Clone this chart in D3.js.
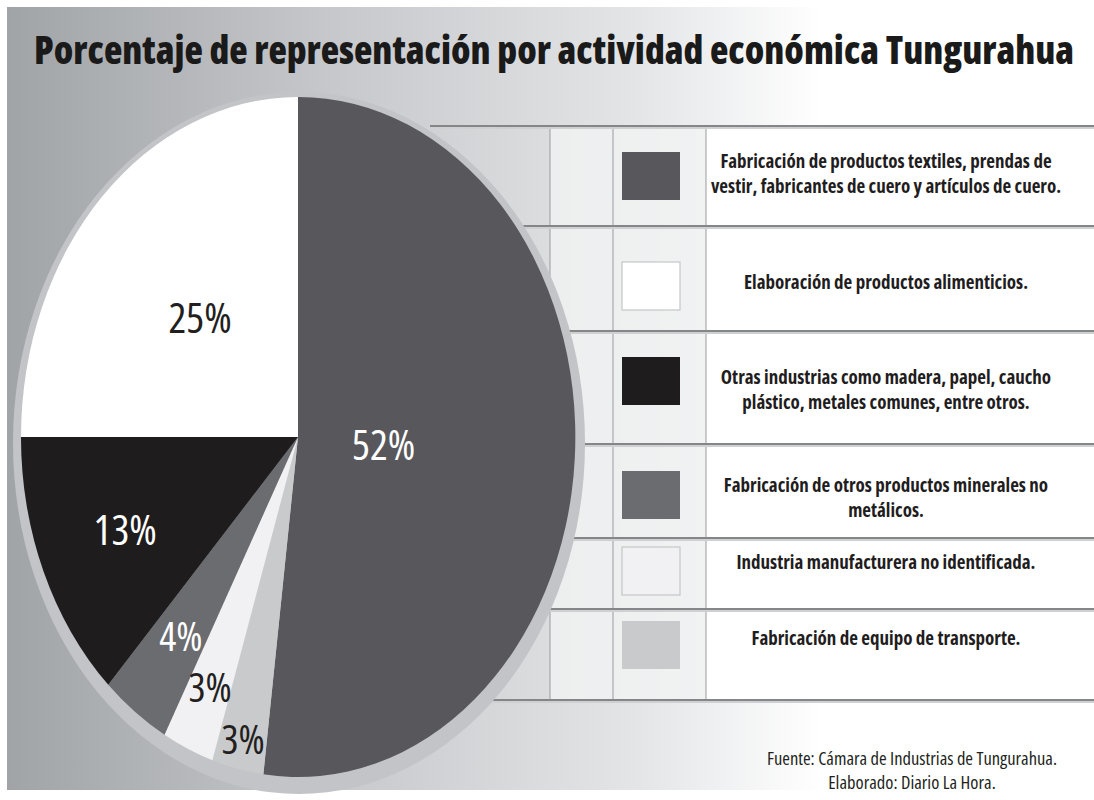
<!DOCTYPE html>
<html>
<head>
<meta charset="utf-8">
<script src="https://cdn.jsdelivr.net/npm/d3@7"></script>
<style>
  body { margin: 0; background: #fff; }
  svg { display: block; }
</style>
</head>
<body>
<svg id="chart" width="1094" height="800"></svg>
<script>
// legend order (top to bottom)
var categories = [
  ["Fabricación de productos textiles, prendas de", "vestir, fabricantes de cuero y artículos de cuero."],
  ["Elaboración de productos alimenticios."],
  ["Otras industrias como madera, papel, caucho", "plástico, metales comunes, entre otros."],
  ["Fabricación de otros productos minerales no", "metálicos."],
  ["Industria manufacturera no identificada."],
  ["Fabricación de equipo de transporte."]
];
var values = [52, 25, 13, 4, 3, 3];
var colors = ["#58575c", "#ffffff", "#1f1c1d", "#6b6c6f", "#f1f1f3", "#c9cacc"];
var labelColors = ["#fff", "#231f20", "#fff", "#fff", "#231f20", "#231f20"];
// clockwise order of the slices starting at 12 o'clock
var pieOrder = [0, 5, 4, 3, 2, 1];
// how far out each percent label sits (fraction of radius)
var labelRadius = [0.31, 0.5, 0.68, 0.72, 0.8, 0.91];

var title = "Porcentaje de representación por actividad económica Tungurahua";
var source = ["Fuente: Cámara de Industrias de Tungurahua.", "Elaborado: Diario La Hora."];

var svg = d3.select("#chart");
var defs = svg.append("defs");

var bg = defs.append("linearGradient").attr("id", "bg")
    .attr("x1", 0).attr("x2", 1).attr("y1", 0).attr("y2", 0);
bg.append("stop").attr("offset", "0%").attr("stop-color", "#a1a4a7");
bg.append("stop").attr("offset", "30%").attr("stop-color", "#c6c8cb");
bg.append("stop").attr("offset", "58%").attr("stop-color", "#e4e5e7");
bg.append("stop").attr("offset", "75%").attr("stop-color", "#ffffff");
bg.append("stop").attr("offset", "100%").attr("stop-color", "#ffffff");

svg.append("rect")
    .attr("x", 7).attr("y", 7)
    .attr("width", 1087).attr("height", 783)
    .attr("fill", "url(#bg)");

// title
svg.append("text")
    .attr("x", 34).attr("y", 64)
    .attr("textLength", 1040)
    .attr("lengthAdjust", "spacingAndGlyphs")
    .style("font-family", "'Open Sans', 'Noto Sans', sans-serif")
    .style("font-weight", 800)
    .style("font-stretch", "condensed")
    .style("font-size", "38px")
    .attr("fill", "#1b1a1a")
    .text(title);

// legend table
var table = { x0: 430, x1: 1094, top: 126, bottom: 700 };
var rowLines = [126, 226, 331, 444, 538, 609, 700];
var colLines = [550, 613, 706];

var tbl = svg.append("g").attr("class", "table");
tbl.append("rect")
    .attr("x", colLines[0]).attr("y", table.top)
    .attr("width", colLines[2] - colLines[0]).attr("height", table.bottom - table.top)
    .attr("fill", "#f1f2f3").attr("opacity", 0.8);
tbl.append("rect")
    .attr("x", colLines[2]).attr("y", table.top)
    .attr("width", table.x1 - colLines[2]).attr("height", table.bottom - table.top)
    .attr("fill", "#ffffff");

tbl.selectAll("line.col")
    .data(colLines)
    .enter().append("line")
    .attr("class", "col")
    .attr("x1", function(d) { return d; })
    .attr("x2", function(d) { return d; })
    .attr("y1", table.top).attr("y2", table.bottom)
    .attr("stroke", "#9a9b9d").attr("stroke-width", 1);

tbl.selectAll("line.rowshade")
    .data(rowLines)
    .enter().append("line")
    .attr("class", "rowshade")
    .attr("x1", table.x0).attr("x2", table.x1)
    .attr("y1", function(d) { return d + 2; })
    .attr("y2", function(d) { return d + 2; })
    .attr("stroke", "#cfd0d2").attr("stroke-width", 2);
tbl.selectAll("line.row")
    .data(rowLines)
    .enter().append("line")
    .attr("class", "row")
    .attr("x1", table.x0).attr("x2", table.x1)
    .attr("y1", function(d) { return d; })
    .attr("y2", function(d) { return d; })
    .attr("stroke", "#858688").attr("stroke-width", 2);

// swatches and legend text
var swatchY = [152, 262, 357, 471, 547, 621];
var textY = [[168, 193], [289], [384, 409], [492, 517], [569], [645]];

tbl.selectAll("rect.swatch")
    .data(values)
    .enter().append("rect")
    .attr("class", "swatch")
    .attr("x", 622)
    .attr("y", function(d, i) { return swatchY[i]; })
    .attr("width", 58).attr("height", 48)
    .attr("fill", function(d, i) { return colors[i]; })
    .attr("stroke", function(d, i) { return (i == 1 || i == 4) ? "#c5c6c8" : "none"; })
    .attr("stroke-width", 1.2);

var legendText = tbl.selectAll("text.leg")
    .data(categories)
    .enter().append("text")
    .attr("class", "leg")
    .attr("text-anchor", "middle")
    .style("font-family", "'Open Sans', 'Noto Sans', sans-serif")
    .style("font-weight", 700)
    .style("font-stretch", "condensed")
    .style("font-size", "19px")
    .attr("fill", "#1f1d1e");

legendText.each(function(lines, i) {
    var t = d3.select(this);
    lines.forEach(function(line, j) {
        t.append("tspan")
            .attr("x", 886)
            .attr("y", textY[i][j])
            .text(line);
    });
});

// pie (drawn as an ellipse, like the original)
var cx = 298, cy = 437, rx = 277, ry = 340;

svg.append("ellipse")
    .attr("cx", cx + 1).attr("cy", cy + 6)
    .attr("rx", rx + 9).attr("ry", ry + 11)
    .attr("fill", "#c2c4c7");

var ordered = pieOrder.map(function(i) { return { idx: i, value: values[i] }; });

var pie = d3.pie()
    .sort(null)
    .value(function(d) { return d.value; });

var arcs = pie(ordered);

var arc = d3.arc()
    .innerRadius(0)
    .outerRadius(1);

var pieG = svg.append("g")
    .attr("transform", "translate(" + cx + "," + cy + ") scale(" + rx + "," + ry + ")");

pieG.selectAll("path")
    .data(arcs)
    .enter().append("path")
    .attr("d", arc)
    .attr("fill", function(d) { return colors[d.data.idx]; });

svg.selectAll("text.pct")
    .data(arcs)
    .enter().append("text")
    .attr("class", "pct")
    .attr("text-anchor", "middle")
    .attr("dominant-baseline", "central")
    .attr("x", function(d) {
        var a = (d.startAngle + d.endAngle) / 2;
        return cx + rx * labelRadius[d.data.idx] * Math.sin(a);
    })
    .attr("y", function(d) {
        var a = (d.startAngle + d.endAngle) / 2;
        return cy - ry * labelRadius[d.data.idx] * Math.cos(a);
    })
    .style("font-family", "'Open Sans', 'Noto Sans', sans-serif")
    .style("font-weight", 400)
    .style("font-stretch", "condensed")
    .style("font-size", function(d) { return d.data.value >= 13 ? "42px" : "40px"; })
    .attr("fill", function(d) { return labelColors[d.data.idx]; })
    .text(function(d) { return d.data.value + "%"; });

// source note
svg.selectAll("text.src")
    .data(source)
    .enter().append("text")
    .attr("class", "src")
    .attr("text-anchor", "middle")
    .attr("x", 912)
    .attr("y", function(d, i) { return 765 + i * 24; })
    .style("font-family", "'Open Sans', 'Noto Sans', sans-serif")
    .style("font-stretch", "condensed")
    .style("font-size", "18.5px")
    .attr("fill", "#231f20")
    .text(function(d) { return d; });
</script>
</body>
</html>
